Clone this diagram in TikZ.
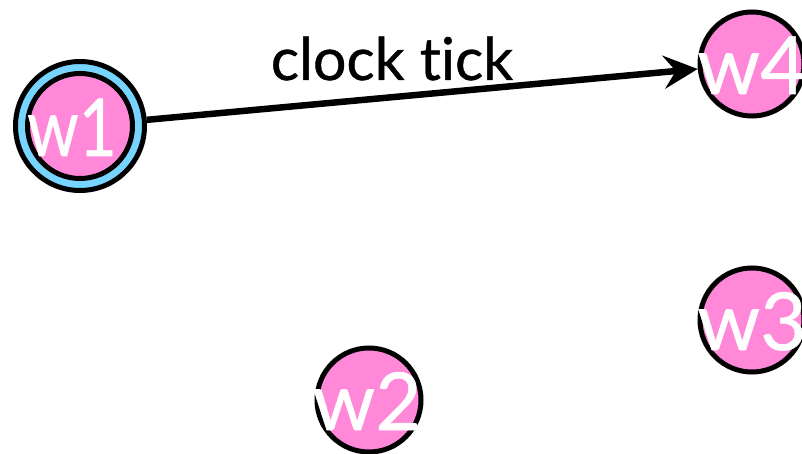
\documentclass[tikz,border=0pt]{standalone}
\usepackage{fontspec}
\setmainfont{Lato}[Ligatures={NoCommon}]
\newfontfamily\medfont{Lato}[Ligatures={NoCommon},FakeBold=0.7]
\usepackage{graphicx}
\usetikzlibrary{arrows.meta}
\definecolor{wpink}{HTML}{FF88D8}
\definecolor{wblue}{HTML}{77D4FF}
\begin{document}
\begin{tikzpicture}[x=1pt,y=-1pt,
  world/.style={circle,draw=black,line width=5pt,fill=wpink,minimum size=104pt,inner sep=0pt},
  ring/.style={circle,draw=black,line width=5pt,fill=wblue,minimum size=129pt,inner sep=0pt},
  wname/.style={anchor=base,text=white,font=\medfont\fontsize{80}{80}\selectfont,inner sep=0pt},
  tick/.style={line width=6.5pt,-{Stealth[length=34pt,width=33pt,inset=12pt]}}]
\useasboundingbox[clip] (0,0) rectangle (802,454);
\node[ring] (w1) at (80,126) {};
\node[world,minimum size=105pt] (w1in) at (80,126) {};
\node[world] (w4) at (752,64) {};
\node[world] (w3) at (752,320) {};
\node[world] (w2) at (369,400) {};
\node[wname] (t1) at (72,156) {\scalebox{0.82}[1]{w1}};
\node[wname] (t4) at (752,94) {w4};
\node[wname] (t3) at (752,350) {w3};
\node[wname] (t2) at (367,430) {w2};
\draw[tick] (w1) -- (w4);
\node[anchor=base,font=\medfont\fontsize{59}{59}\selectfont,inner sep=0pt] (lbl) at (392,80) {clock tick};
\end{tikzpicture}
\end{document}
